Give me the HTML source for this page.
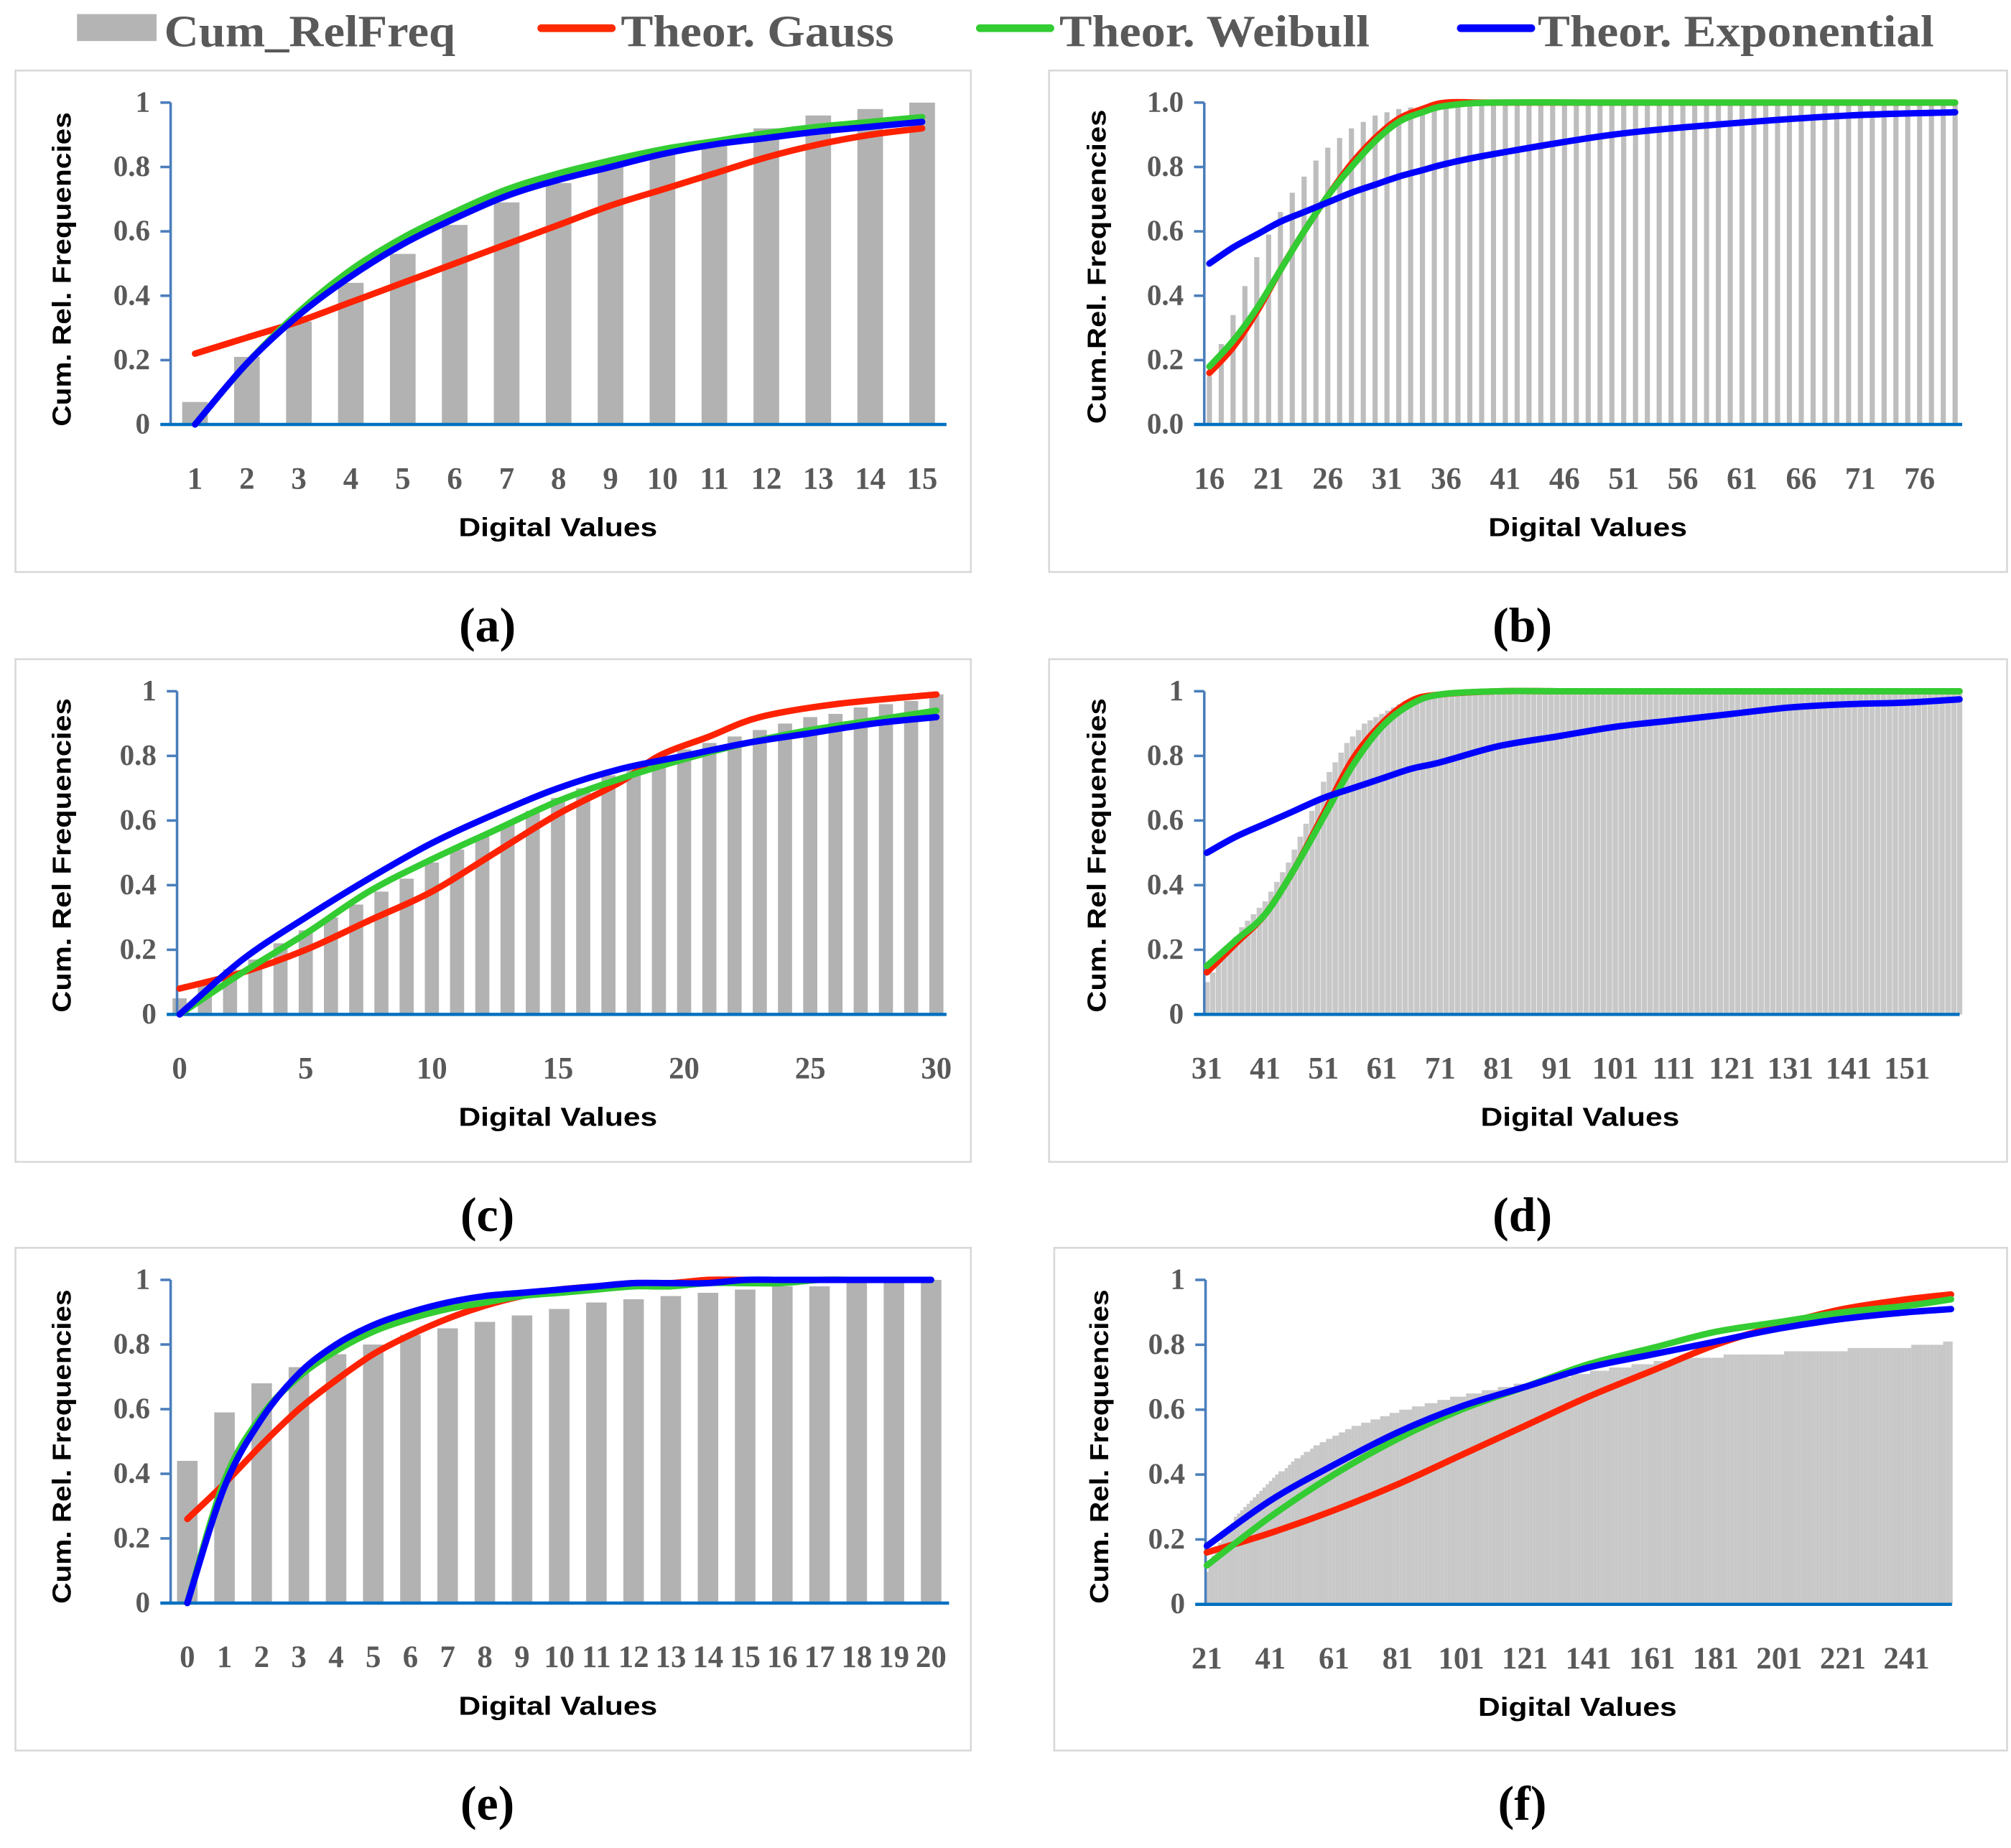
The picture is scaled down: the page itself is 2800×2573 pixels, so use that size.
<!DOCTYPE html>
<html><head><meta charset="utf-8"><style>
html,body{margin:0;padding:0;background:#fff;}
svg{display:block;}
.tk{font-family:"Liberation Serif",serif;fill:#595959;font-size:24px;font-weight:bold;}
.yt{font-family:"Liberation Serif",serif;fill:#595959;font-size:23px;font-weight:bold;}
.at{font-family:"Liberation Sans",sans-serif;font-weight:bold;fill:#000;font-size:20px;}
.cap{font-family:"Liberation Serif",serif;fill:#000;font-size:38px;font-weight:bold;}
.lg{font-family:"Liberation Serif",serif;fill:#595959;font-size:35px;font-weight:bold;}
</style></head><body>
<svg id="root" width="2800" height="2573" viewBox="0 0 1568 1441" xmlns="http://www.w3.org/2000/svg">
<g>
<g><rect x="60" y="11" width="62" height="21" fill="#b4b4b4"/><text class="lg" x="128" y="36" textLength="227" lengthAdjust="spacingAndGlyphs">Cum_RelFreq</text></g>
<g><line x1="422" y1="22" x2="477" y2="22" stroke="#ff2a00" stroke-width="6" stroke-linecap="round"/><text class="lg" x="484" y="36" textLength="213" lengthAdjust="spacingAndGlyphs">Theor. Gauss</text></g>
<g><line x1="764" y1="22" x2="819" y2="22" stroke="#33cc33" stroke-width="6" stroke-linecap="round"/><text class="lg" x="826" y="36" textLength="242" lengthAdjust="spacingAndGlyphs">Theor. Weibull</text></g>
<g><line x1="1139" y1="22" x2="1194" y2="22" stroke="#0000ff" stroke-width="6" stroke-linecap="round"/><text class="lg" x="1199" y="36" textLength="309" lengthAdjust="spacingAndGlyphs">Theor. Exponential</text></g>
</g>
</svg>
<script>
// ---------- Panel (a) ----------
const aCats=[1,2,3,4,5,6,7,8,9,10,11,12,13,14,15];
const aBars=[0.07,0.21,0.32,0.44,0.53,0.62,0.69,0.75,0.80,0.84,0.88,0.92,0.96,0.98,1.00];
const aLineX=[1,2,3,4,5,6,7,8,9,10,11,12,13,14,15];
const aGauss=[0.22,0.27,0.32,0.38,0.44,0.50,0.56,0.62,0.68,0.73,0.78,0.83,0.87,0.90,0.92];
const aWeibull=[0,0.19,0.35,0.48,0.58,0.66,0.73,0.78,0.82,0.855,0.88,0.905,0.925,0.94,0.955];
const aExp=[0,0.19,0.34,0.46,0.56,0.64,0.71,0.76,0.80,0.84,0.87,0.89,0.91,0.925,0.94];
const aTicks=[1,2,3,4,5,6,7,8,9,10,11,12,13,14,15];
const aYTicks=["0","0.2","0.4","0.6","0.8","1"];
// ---------- Panel (b) ----------
const bCats=[16,17,18,19,20,21,22,23,24,25,26,27,28,29,30,31,32,33,34,35,36,37,38,39,40,41,42,43,44,45,46,47,48,49,50,51,52,53,54,55,56,57,58,59,60,61,62,63,64,65,66,67,68,69,70,71,72,73,74,75,76,77,78,79];
const bBars=[0.15,0.25,0.34,0.43,0.52,0.59,0.66,0.72,0.77,0.82,0.86,0.89,0.92,0.94,0.96,0.97,0.98,0.985,0.99,0.99,0.995,0.995,0.995,1,1,1,1,1,1,1,1,1,1,1,1,1,1,1,1,1,1,1,1,1,1,1,1,1,1,1,1,1,1,1,1,1,1,1,1,1,1,1,1,1];
const bLineX=[16,18,20,22,24,26,28,30,32,34,36,40,50,60,70,79];
const bGauss=[0.16,0.24,0.35,0.48,0.60,0.71,0.81,0.89,0.95,0.98,1.0,1,1,1,1,1];
const bWeibull=[0.18,0.26,0.36,0.48,0.60,0.71,0.80,0.88,0.94,0.97,0.99,1,1,1,1,1];
const bExp=[0.50,0.55,0.59,0.63,0.66,0.69,0.72,0.745,0.77,0.79,0.81,0.84,0.90,0.935,0.96,0.97];
const bTicks=[16,21,26,31,36,41,46,51,56,61,66,71,76];
const bYTicks=["0.0","0.2","0.4","0.6","0.8","1.0"];
// ---------- Panel (c) ----------
const cCats=[0,1,2,3,4,5,6,7,8,9,10,11,12,13,14,15,16,17,18,19,20,21,22,23,24,25,26,27,28,29,30];
const cBars=[0.05,0.10,0.14,0.17,0.22,0.26,0.30,0.34,0.38,0.42,0.47,0.51,0.55,0.59,0.63,0.67,0.70,0.74,0.77,0.80,0.82,0.84,0.86,0.88,0.90,0.92,0.93,0.95,0.96,0.97,0.99];
const cLineX=[0,2.5,5,7.5,10,12.5,15,17.5,19,21,23,26,30];
const cGauss=[0.08,0.13,0.20,0.29,0.38,0.50,0.62,0.72,0.80,0.86,0.92,0.96,0.99];
const cWLineX=[0,2.5,5,7.5,10,12.5,15,17.5,20,22.5,25,27.5,30];
const cWeibull=[0,0.13,0.25,0.38,0.48,0.57,0.66,0.73,0.79,0.84,0.88,0.91,0.94];
const cExp=[0,0.17,0.30,0.42,0.53,0.62,0.70,0.76,0.80,0.84,0.87,0.90,0.92];
const cTicks=[0,5,10,15,20,25,30];
const cYTicks=["0","0.2","0.4","0.6","0.8","1"];
// ---------- Panel (d) ----------
const dBars=[0.10,0.13,0.16,0.19,0.22,0.24,0.27,0.29,0.31,0.33,
0.35,0.38,0.41,0.44,0.47,0.51,0.55,0.59,0.63,0.67,
0.72,0.75,0.78,0.81,0.84,0.86,0.88,0.90,0.91,0.92,
0.93,0.94,0.95,0.96,0.97,0.97,0.98,0.98,0.985,0.99,
0.99,0.99,0.99,0.99,0.99,0.99,0.99,0.99,0.99,0.99,
0.99,0.99,0.99,0.99,0.99,0.99,0.99,0.99,0.99,0.99,
0.99,0.99,0.99,0.99,0.99,0.99,0.99,0.99,0.99,0.99,
0.99,0.99,0.99,0.99,0.99,0.99,0.99,0.99,0.99,0.99,
0.99,0.99,0.99,0.99,0.99,0.99,0.99,0.99,0.99,0.99,
0.99,0.99,0.99,0.99,0.99,0.99,0.99,0.99,0.99,0.99,
0.99,0.99,0.99,0.99,0.99,0.99,0.99,0.99,0.99,0.99,
0.99,0.99,0.99,0.99,0.99,0.99,0.99,0.99,0.99,0.99,
0.99,0.99,0.99,0.99,0.99,0.99,0.99,0.99,0.99,0.99];
const dFirst=31;
const dLineX=[31,36,41,46,51,56,61,66,71,81,91,101,111,121,131,141,151,160];
const dGauss=[0.13,0.22,0.31,0.45,0.62,0.79,0.90,0.97,0.99,1,1,1,1,1,1,1,1,1];
const dWeibull=[0.15,0.23,0.31,0.45,0.61,0.77,0.89,0.96,0.99,1,1,1,1,1,1,1,1,1];
const dExp=[0.50,0.55,0.59,0.63,0.67,0.70,0.73,0.76,0.78,0.83,0.86,0.89,0.91,0.93,0.95,0.96,0.965,0.975];
const dTicks=[31,41,51,61,71,81,91,101,111,121,131,141,151];
const dYTicks=["0","0.2","0.4","0.6","0.8","1"];
// ---------- Panel (e) ----------
const eCats=[0,1,2,3,4,5,6,7,8,9,10,11,12,13,14,15,16,17,18,19,20];
const eBars=[0.44,0.59,0.68,0.73,0.77,0.80,0.83,0.85,0.87,0.89,0.91,0.93,0.94,0.95,0.96,0.97,0.98,0.98,0.99,0.99,1.0];
const eLineX=[0,1,2,3,4,5,6,7,8,9,10,11,12,13,14,15,16,17,18,19,20];
const eGauss=[0.26,0.37,0.49,0.60,0.69,0.77,0.83,0.88,0.92,0.95,0.97,0.98,0.99,0.99,1,1,1,1,1,1,1];
const eWeibull=[0,0.38,0.58,0.70,0.78,0.84,0.88,0.91,0.93,0.95,0.96,0.97,0.98,0.98,0.99,0.99,0.99,1,1,1,1];
const eExp=[0,0.36,0.57,0.71,0.80,0.86,0.90,0.93,0.95,0.96,0.97,0.98,0.99,0.99,0.99,1,1,1,1,1,1];
const eTicks=[0,1,2,3,4,5,6,7,8,9,10,11,12,13,14,15,16,17,18,19,20];
const eYTicks=["0","0.2","0.4","0.6","0.8","1"];
// ---------- Panel (f) ----------
const fBars=[0.10,0.13,0.15,0.17,0.19,0.21,0.22,0.24,0.25,0.27,
0.28,0.29,0.30,0.31,0.32,0.33,0.34,0.35,0.36,0.37,
0.38,0.39,0.40,0.41,0.41,0.42,0.43,0.44,0.45,0.45,
0.46,0.47,0.47,0.48,0.49,0.49,0.50,0.50,0.51,0.51,
0.52,0.52,0.53,0.53,0.54,0.54,0.55,0.55,0.55,0.56,
0.56,0.56,0.57,0.57,0.57,0.58,0.58,0.58,0.59,0.59,
0.59,0.60,0.60,0.60,0.60,0.61,0.61,0.61,0.61,0.62,
0.62,0.62,0.62,0.63,0.63,0.63,0.63,0.64,0.64,0.64,
0.64,0.64,0.65,0.65,0.65,0.65,0.65,0.66,0.66,0.66,
0.66,0.66,0.67,0.67,0.67,0.67,0.67,0.68,0.68,0.68,
0.68,0.68,0.68,0.69,0.69,0.69,0.69,0.69,0.69,0.70,
0.70,0.70,0.70,0.70,0.70,0.71,0.71,0.71,0.71,0.71,
0.71,0.72,0.72,0.72,0.72,0.72,0.72,0.73,0.73,0.73,
0.73,0.73,0.73,0.73,0.74,0.74,0.74,0.74,0.74,0.74,
0.74,0.75,0.75,0.75,0.75,0.75,0.75,0.75,0.75,0.76,
0.76,0.76,0.76,0.76,0.76,0.76,0.76,0.76,0.76,0.76,
0.76,0.76,0.76,0.77,0.77,0.77,0.77,0.77,0.77,0.77,
0.77,0.77,0.77,0.77,0.77,0.77,0.77,0.77,0.77,0.77,
0.77,0.77,0.78,0.78,0.78,0.78,0.78,0.78,0.78,0.78,
0.78,0.78,0.78,0.78,0.78,0.78,0.78,0.78,0.78,0.78,
0.78,0.78,0.79,0.79,0.79,0.79,0.79,0.79,0.79,0.79,
0.79,0.79,0.79,0.79,0.79,0.79,0.79,0.79,0.79,0.79,
0.79,0.79,0.80,0.80,0.80,0.80,0.80,0.80,0.80,0.80,
0.80,0.80,0.81,0.81,0.81];
const fFirst=21;
const fLineX=[21,41,61,81,101,121,141,161,181,201,221,241,255];
const fGauss=[0.16,0.22,0.29,0.37,0.46,0.55,0.64,0.72,0.80,0.86,0.91,0.94,0.955];
const fWeibull=[0.12,0.27,0.40,0.51,0.60,0.67,0.74,0.79,0.84,0.87,0.90,0.92,0.94];
const fExp=[0.18,0.32,0.43,0.53,0.61,0.67,0.73,0.77,0.81,0.85,0.88,0.90,0.91];
const fTicks=[21,41,61,81,101,121,141,161,181,201,221,241];
const fYTicks=["0","0.2","0.4","0.6","0.8","1"];

const NS="http://www.w3.org/2000/svg";
const root=document.getElementById('root');
function mk(tag,attrs,parent){const e=document.createElementNS(NS,tag);for(const k in attrs)e.setAttribute(k,attrs[k]);parent.appendChild(e);return e;}
function smooth(pts){
  let d="M"+pts[0][0]+","+pts[0][1];
  for(let i=0;i<pts.length-1;i++){
    const p0=pts[Math.max(0,i-1)],p1=pts[i],p2=pts[i+1],p3=pts[Math.min(pts.length-1,i+2)];
    const c1x=p1[0]+(p2[0]-p0[0])/6,c1y=p1[1]+(p2[1]-p0[1])/6;
    const c2x=p2[0]-(p3[0]-p1[0])/6,c2y=p2[1]-(p3[1]-p1[1])/6;
    d+=" C"+c1x+","+c1y+" "+c2x+","+c2y+" "+p2[0]+","+p2[1];
  }
  return d;
}
function panel(p){
  const g=mk('g',{},root);
  
  
  const fr=mk('rect',{x:p.fx,y:p.fy,width:p.fw,height:p.fh,fill:'#fff',stroke:'#d9d9d9','stroke-width':1.5},g);
  
  
  const X=v=>p.x0+(v-p.v0)*p.step;
  const Y=v=>p.y0-(p.y0-p.y1)*v;
  const bg=mk('g',{},g);
  
  
  p.bars.forEach((v,i)=>{
    const c=p.cats?p.cats[i]:p.first+i;
    const r=mk('rect',{x:X(c)-p.bw/2,y:Y(v),width:p.bw,height:Y(0)-Y(v),fill:p.barColor},bg);
    
    
  });
  const ya=mk('line',{x1:p.ax,y1:p.y1,x2:p.ax,y2:p.y0,stroke:'#4a7ebb','stroke-width':2},g);
  
  
  p.yt.forEach((t,i)=>{
    const yy=Y(i*0.2);
    mk('line',{x1:p.ax-8,y1:yy,x2:p.ax,y2:yy,stroke:'#4a7ebb','stroke-width':2},g);
    const tx=mk('text',{x:p.ax-16,y:yy+7,'text-anchor':'end',class:'yt'},g);
    tx.textContent=t;
    
    
  });
  const xa=mk('line',{x1:p.ax-8,y1:p.y0,x2:p.axEnd,y2:p.y0,stroke:'#0070c0','stroke-width':2.5},g);
  
  
  p.xt.forEach(t=>{
    const tx=mk('text',{x:X(t),y:p.y0+50,'text-anchor':'middle',class:'tk'},g);
    tx.textContent=t;
    
    
  });
  const series=[['gauss-line',p.gx||p.lx,p.gauss,'#ff2200'],['weibull-line',p.wx||p.lx,p.weib,'#33cc33'],['exponential-line',p.lx,p.exp,'#0000ff']];
  series.forEach(s=>{
    const pts=s[2].map((v,i)=>[X(s[1][i]),Y(v)]);
    const path=mk('path',{d:smooth(pts),fill:'none',stroke:s[3],'stroke-width':5,'stroke-linecap':'round','stroke-linejoin':'round'},g);
    
    
  });
  const yl=mk('text',{x:0,y:0,class:'at','text-anchor':'middle',transform:'translate('+(p.ylx)+','+(p.ylc)+') rotate(-90)',textLength:245,lengthAdjust:'spacingAndGlyphs'},g);
  yl.textContent=p.ylabel;
  
  
  const xl=mk('text',{x:p.xlc,y:p.y0+87,class:'at','text-anchor':'middle',textLength:155,lengthAdjust:'spacingAndGlyphs'},g);
  xl.textContent='Digital Values';
  
  
  const cp=mk('text',{x:p.capx,y:p.fy+p.fh+54,class:'cap','text-anchor':'middle'},g);
  cp.textContent='('+p.id+')';
  
  
}
panel({id:'a',fx:12,fy:55,fw:745,fh:391,ax:133,axEnd:738,y0:331,y1:80,x0:152,v0:1,step:40.5,cats:aCats,bars:aBars,bw:20,barColor:'#b2b2b2',lx:aLineX,gauss:aGauss,weib:aWeibull,exp:aExp,xt:aTicks,yt:aYTicks,ylx:55,ylc:210,ylabel:'Cum. Rel. Frequencies',xlc:435,capx:380});
panel({id:'b',fx:818,fy:55,fw:747,fh:391,ax:939,axEnd:1530,y0:331,y1:80,x0:943,v0:16,step:9.23,cats:bCats,bars:bBars,bw:4,barColor:'#bdbdbd',lx:bLineX,gauss:bGauss,weib:bWeibull,exp:bExp,xt:bTicks,yt:bYTicks,ylx:862,ylc:208,ylabel:'Cum.Rel. Frequencies',xlc:1238,capx:1187});
panel({id:'c',fx:12,fy:514,fw:745,fh:392,ax:138,axEnd:738,y0:791,y1:539,x0:140,v0:0,step:19.67,cats:cCats,bars:cBars,bw:11,barColor:'#b2b2b2',lx:cWLineX,gx:cLineX,wx:cWLineX,gauss:cGauss,weib:cWeibull,exp:cExp,xt:cTicks,yt:cYTicks,ylx:55,ylc:667,ylabel:'Cum. Rel Frequencies',xlc:435,capx:380});
panel({id:'d',fx:818,fy:514,fw:747,fh:392,ax:939,axEnd:1528,y0:791,y1:539,x0:941,v0:31,step:4.55,first:dFirst,bars:dBars,bw:4.2,barColor:'#c8c8c8',lx:dLineX,gauss:dGauss,weib:dWeibull,exp:dExp,xt:dTicks,yt:dYTicks,ylx:862,ylc:667,ylabel:'Cum. Rel Frequencies',xlc:1232,capx:1187});
panel({id:'e',fx:12,fy:973,fw:745,fh:392,ax:133,axEnd:740,y0:1250,y1:998,x0:146,v0:0,step:29,cats:eCats,bars:eBars,bw:16,barColor:'#b2b2b2',lx:eLineX,gauss:eGauss,weib:eWeibull,exp:eExp,xt:eTicks,yt:eYTicks,ylx:55,ylc:1128,ylabel:'Cum. Rel. Frequencies',xlc:435,capx:380});
panel({id:'f',fx:822,fy:973,fw:743,fh:392,ax:940,axEnd:1522,y0:1251,y1:998,x0:941,v0:21,step:2.48,first:fFirst,bars:fBars,bw:2.5,barColor:'#c8c8c8',lx:fLineX,gauss:fGauss,weib:fWeibull,exp:fExp,xt:fTicks,yt:fYTicks,ylx:864,ylc:1128,ylabel:'Cum. Rel. Frequencies',xlc:1230,capx:1187});
</script>
</body></html>
